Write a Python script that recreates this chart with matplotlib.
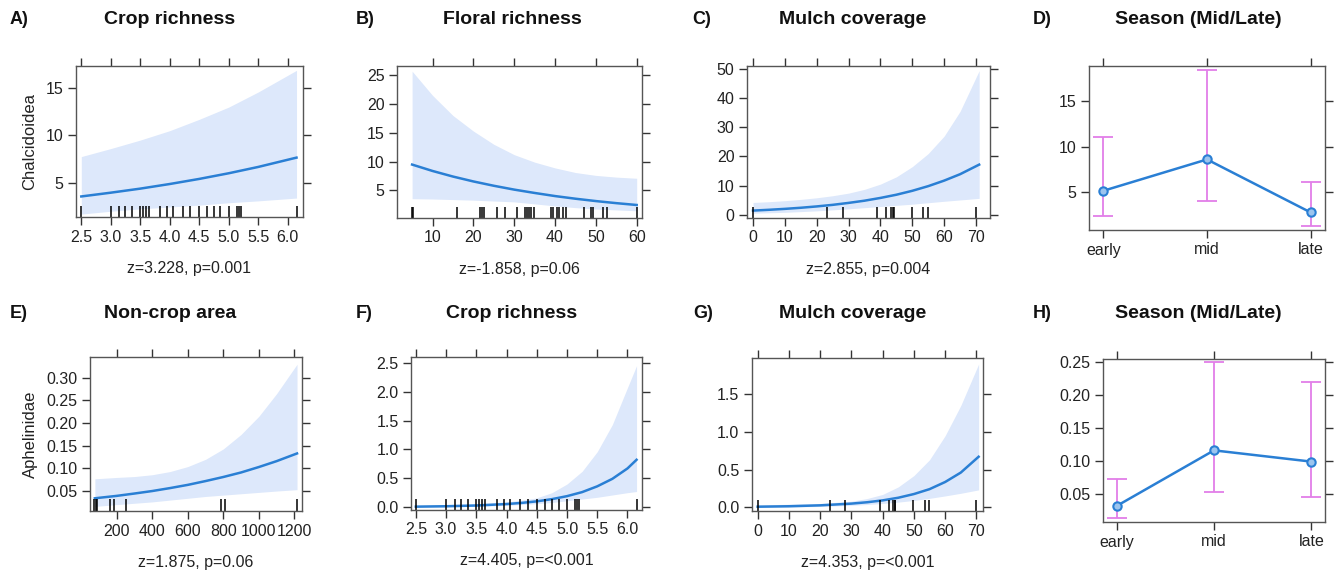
"""
Effect plots for Chalcidoidea and Aphelinidae models
lattice-like style
"""
from matplotlib import pyplot as plt
import numpy as np

plt.rcParams['font.family'] = ['Liberation Sans', 'DejaVu Sans']

W, H = 1336, 571

# colours
band_col = '#dde8fb'
line_col = '#2a7fd4'
bar_col = '#e27ee8'
box_col = '#555555'

# rug data
crop_rug = [2.5, 3.0, 3.14, 3.24, 3.36, 3.49, 3.54, 3.59, 3.65, 3.84, 3.96, 4.06,
            4.22, 4.35, 4.5, 4.64, 4.75, 4.86, 5.0, 5.14, 5.17, 5.2, 6.15]
floral_rug = [5, 5.2, 16.0, 21.7, 22.1, 22.7, 25.7, 27.8, 30.8, 32.6, 33.1, 33.6,
              34.1, 34.8, 39.0, 39.6, 40.4, 41.0, 42.0, 42.8, 47.1, 48.9, 49.2,
              51.8, 52.8, 60]
mulch_rug = [0, 23.1, 28.1, 39.0, 41.9, 43.4, 43.8, 44.1, 49.8, 53.5, 54.9, 70]
noncrop_rug = [74, 82, 89, 162, 185, 251, 786, 809, 1215]

# A) Chalcidoidea ~ crop richness
a_x = [2.5, 3.0, 3.5, 4.0, 4.5, 5.0, 5.5, 6.15]
a_fit = [3.52, 3.92, 4.35, 4.84, 5.38, 5.98, 6.65, 7.64]
a_lo = [1.65, 1.95, 2.2, 2.4, 2.6, 2.85, 3.05, 3.35]
a_hi = [7.75, 8.6, 9.5, 10.5, 11.7, 13.0, 14.6, 16.9]

# B) Chalcidoidea ~ floral richness
b_x = [5, 10, 15, 20, 25, 30, 35, 40, 45, 50, 55, 60]
b_fit = [9.48, 8.37, 7.4, 6.55, 5.8, 5.13, 4.55, 4.01, 3.55, 3.14, 2.78, 2.46]
b_lo = [3.55, 3.5, 3.4, 3.3, 3.15, 3.0, 2.65, 2.3, 2.0, 1.75, 1.6, 1.45]
b_hi = [25.7, 21.5, 18.0, 15.3, 13.0, 11.2, 9.9, 8.9, 8.1, 7.6, 7.3, 7.1]

# C) Chalcidoidea ~ mulch coverage
c_x = [0, 5, 10, 15, 20, 25, 30, 35, 40, 45, 50, 55, 60, 65, 71]
c_fit = [1.4, 1.67, 1.99, 2.37, 2.83, 3.37, 4.04, 4.8, 5.75, 6.85, 8.2, 9.8, 11.7, 13.9, 17.2]
c_lo = [0.5, 0.65, 0.8, 1.05, 1.3, 1.65, 2.0, 2.4, 2.8, 3.2, 3.6, 4.1, 4.6, 5.05, 5.6]
c_hi = [4.2, 4.45, 4.8, 5.25, 5.8, 6.5, 7.4, 8.7, 10.5, 13.0, 16.5, 21.0, 27.0, 35.5, 49.5]

# D) Chalcidoidea ~ season
seasons = ['early', 'mid', 'late']
d_fit = [5.11, 8.57, 2.72]
d_lo = [2.35, 3.97, 1.21]
d_hi = [11.07, 18.5, 6.03]

# E) Aphelinidae ~ non-crop area
e_x = [77, 200, 300, 400, 500, 600, 700, 800, 900, 1000, 1100, 1215]
e_fit = [0.034, 0.0393, 0.0445, 0.050, 0.0565, 0.0636, 0.072, 0.081, 0.091, 0.103, 0.116, 0.133]
e_lo = [0.016, 0.020, 0.023, 0.026, 0.030, 0.034, 0.038, 0.041, 0.044, 0.047, 0.050, 0.053]
e_hi = [0.077, 0.080, 0.082, 0.086, 0.093, 0.104, 0.12, 0.143, 0.175, 0.215, 0.265, 0.33]

# F) Aphelinidae ~ crop richness
f_x = [2.5, 3.0, 3.5, 4.0, 4.25, 4.5, 4.75, 5.0, 5.25, 5.5, 5.75, 6.0, 6.15]
f_fit = [0.008, 0.015, 0.028, 0.053, 0.073, 0.1, 0.138, 0.19, 0.26, 0.36, 0.49, 0.67, 0.82]
f_lo = [0.002, 0.005, 0.013, 0.03, 0.045, 0.06, 0.08, 0.11, 0.14, 0.17, 0.21, 0.25, 0.27]
f_hi = [0.03, 0.04, 0.06, 0.09, 0.12, 0.16, 0.25, 0.40, 0.62, 0.96, 1.43, 2.07, 2.45]

# G) Aphelinidae ~ mulch coverage
g_x = [0, 10, 20, 30, 35, 40, 45, 50, 55, 60, 65, 70.7]
g_fit = [0.007, 0.013, 0.025, 0.048, 0.066, 0.091, 0.126, 0.175, 0.24, 0.335, 0.46, 0.67]
g_lo = [0.0, 0.003, 0.01, 0.025, 0.036, 0.05, 0.068, 0.09, 0.118, 0.15, 0.185, 0.23]
g_hi = [0.03, 0.04, 0.05, 0.08, 0.115, 0.17, 0.27, 0.42, 0.63, 0.95, 1.35, 1.9]

# H) Aphelinidae ~ season
h_fit = [0.032, 0.116, 0.099]
h_lo = [0.0137, 0.0535, 0.045]
h_hi = [0.073, 0.25, 0.219]


def px_axes(fig, l, t, r, b):
    return fig.add_axes([l / W, 1 - b / H, (r - l) / W, (b - t) / H])


def style(ax):
    for s in ax.spines.values():
        s.set_color(box_col)
        s.set_linewidth(1.0)
    ax.tick_params(direction='out', top=True, right=True, length=6, width=1,
                   color='#333333', labelsize=11.5, labelcolor='#222222', pad=3)


def effect_panel(ax, x, fit, lo, hi, rug, xlim, ylim, xticks, yticks):
    ax.fill_between(x, lo, hi, color=band_col, lw=0)
    ax.plot(x, fit, color=line_col, lw=1.8)
    ax.vlines(rug, 0, 0.075, transform=ax.get_xaxis_transform(), color='black', lw=1.1)
    ax.set_xlim(*xlim)
    ax.set_ylim(*ylim)
    ax.set_xticks(xticks)
    ax.set_yticks(yticks)
    style(ax)


def season_panel(ax, fit, lo, hi, ylim, yticks, ytl):
    xs = np.arange(len(seasons))
    ax.errorbar(xs, fit, yerr=[np.array(fit) - np.array(lo), np.array(hi) - np.array(fit)],
                fmt='none', ecolor=bar_col, elinewidth=1.3, capsize=7, capthick=1.3)
    ax.plot(xs, fit, color=line_col, lw=1.8, marker='o', ms=6, mfc='#9cc4ee', mew=1.5)
    ax.set_xlim(-0.14, 2.14)
    ax.set_ylim(*ylim)
    ax.set_xticks(xs)
    ax.set_xticklabels(seasons)
    ax.set_yticks(yticks)
    ax.set_yticklabels(ytl)
    style(ax)


fig = plt.figure(figsize=(W / 100, H / 100), dpi=100)

# row 1
axA = px_axes(fig, 76, 66, 303, 217)
effect_panel(axA, a_x, a_fit, a_lo, a_hi, crop_rug, (2.41, 6.26), (1.34, 17.36),
             [2.5, 3.0, 3.5, 4.0, 4.5, 5.0, 5.5, 6.0], [5, 10, 15])
axA.set_ylabel('Chalcidoidea', fontsize=12, color='#222222', labelpad=6)

axB = px_axes(fig, 397, 66, 642, 218)
effect_panel(axB, b_x, b_fit, b_lo, b_hi, floral_rug, (1.3, 61.3), (0.2, 26.6),
             [10, 20, 30, 40, 50, 60], [5, 10, 15, 20, 25])

axC = px_axes(fig, 747, 66, 990, 218)
effect_panel(axC, c_x, c_fit, c_lo, c_hi, mulch_rug, (-1.9, 74.4), (-1.15, 51.1),
             [0, 10, 20, 30, 40, 50, 60, 70], [0, 10, 20, 30, 40, 50])

axD = px_axes(fig, 1089, 66, 1325, 230)
season_panel(axD, d_fit, d_lo, d_hi, (0.77, 18.9), [5, 10, 15], ['5', '10', '15'])

# row 2
axE = px_axes(fig, 90, 357, 302, 511)
effect_panel(axE, e_x, e_fit, e_lo, e_hi, noncrop_rug, (49.6, 1243), (0.0059, 0.346),
             [200, 400, 600, 800, 1000, 1200], [0.05, 0.10, 0.15, 0.20, 0.25, 0.30])
axE.set_yticklabels(['0.05', '0.10', '0.15', '0.20', '0.25', '0.30'])
axE.set_xticklabels(['200', '400', '600', '800', '1000', '1200'])
axE.set_ylabel('Aphelinidae', fontsize=12, color='#222222', labelpad=6)

axF = px_axes(fig, 411, 357, 642, 510)
effect_panel(axF, f_x, f_fit, f_lo, f_hi, crop_rug, (2.42, 6.24), (-0.05, 2.6),
             [2.5, 3.0, 3.5, 4.0, 4.5, 5.0, 5.5, 6.0], [0.0, 0.5, 1.0, 1.5, 2.0, 2.5])

axG = px_axes(fig, 752, 358, 983, 511)
effect_panel(axG, g_x, g_fit, g_lo, g_hi, mulch_rug, (-1.8, 72.1), (-0.05, 1.98),
             [0, 10, 20, 30, 40, 50, 60, 70], [0.0, 0.5, 1.0, 1.5])

axH = px_axes(fig, 1103, 359, 1325, 522)
season_panel(axH, h_fit, h_lo, h_hi, (0.0078, 0.254), [0.05, 0.10, 0.15, 0.20, 0.25],
             ['0.05', '0.10', '0.15', '0.20', '0.25'])

# titles, panel letters and test statistics
titles = ['Crop richness', 'Floral richness', 'Mulch coverage', 'Season (Mid/Late)',
          'Non-crop area', 'Crop richness', 'Mulch coverage', 'Season (Mid/Late)']
letters = ['A)', 'B)', 'C)', 'D)', 'E)', 'F)', 'G)', 'H)']
stats = ['z=3.228, p=0.001', 'z=-1.858, p=0.06', 'z=2.855, p=0.004', None,
         'z=1.875, p=0.06', 'z=4.405, p=<0.001', 'z=4.353, p=<0.001', None]
title_x = [170, 512, 853, 1198, 170, 512, 853, 1198]
letter_x = [10, 356, 692, 1033, 10, 356, 693, 1033]
row_y = [20, 20, 20, 20, 313, 313, 313, 313]
axes = [axA, axB, axC, axD, axE, axF, axG, axH]

for ax, t, lt, st, tx, lx, ry in zip(axes, titles, letters, stats, title_x, letter_x, row_y):
    fig.text(tx / W, 1 - ry / H, t, ha='center', va='center', fontsize=14,
             fontweight='bold', color='#111111')
    fig.text(lx / W, 1 - ry / H, lt, ha='left', va='center', fontsize=13,
             fontweight='bold', color='#111111')
    if st is not None:
        pos = ax.get_position()
        fig.text(pos.x0 + pos.width / 2, pos.y0 - 51 / H, st, ha='center', va='center',
                 fontsize=11.5, color='#222222')

fig.savefig('out.png', dpi=100)
